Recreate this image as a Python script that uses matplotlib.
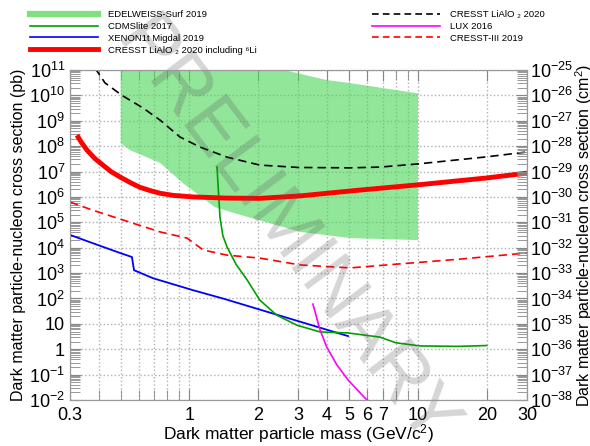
import numpy as np
import matplotlib
matplotlib.use('Agg')
import matplotlib.pyplot as plt
from matplotlib.lines import Line2D
from matplotlib.ticker import FixedLocator, FuncFormatter, LogLocator, NullFormatter

plt.rcParams['font.family'] = ['Liberation Sans', 'DejaVu Sans']
plt.rcParams['mathtext.fontset'] = 'custom'
plt.rcParams['mathtext.rm'] = 'Liberation Sans'
plt.rcParams['mathtext.it'] = 'Liberation Sans:italic'
plt.rcParams['mathtext.bf'] = 'Liberation Sans:bold'

# EDELWEISS-Surf 2019 excluded region (upper and lower edges)
edw_top_m = [0.5, 1.0, 2.0, 2.6, 4.0, 5.0, 10.0]
edw_top_s = [1e12, 5e11, 1.7e11, 1e11, 4e10, 3.1e10, 1.2e10]
edw_bot_m = [10.0, 5.04, 3.05, 2.03, 1.6, 1.29, 0.937, 0.743, 0.549, 0.5]
edw_bot_s = [2e4, 2.4e4, 4.2e4, 1.2e5, 2.2e5, 4e5, 3.5e6, 2.2e7, 7e7, 1.3e8]

# CRESST LiAlO2 2020
lialo_m = [0.386, 0.427, 0.507, 0.626, 0.743, 0.909, 1.11, 1.46, 2.03, 3.0, 5.04, 6.82, 10.0, 20.0, 30.0]
lialo_s = [1.2e11, 3.1e10, 1e10, 3.2e9, 1.07e9, 2.3e8, 9.3e7, 3.7e7, 1.8e7, 1.45e7, 1.4e7, 1.5e7, 2.0e7, 3.8e7, 5.9e7]

# CRESST LiAlO2 2020 including 6Li
li6_m = [0.322, 0.335, 0.356, 0.385, 0.418, 0.455, 0.497, 0.55, 0.607, 0.67, 0.743, 0.85, 1.04,
         1.46, 2.03, 3.05, 5.0, 6.82, 10.0, 20.0, 30.0]
li6_s = [2.7e8, 1.5e8, 7.0e7, 3.3e7, 1.8e7, 9.8e6, 6.1e6, 3.7e6, 2.4e6, 1.8e6, 1.4e6, 1.15e6, 1.0e6,
         9e5, 8.8e5, 1.1e6, 1.7e6, 2.2e6, 3.0e6, 5.6e6, 8.7e6]

# CRESST-III 2019
c3_m = [0.3, 0.378, 0.533, 0.743, 0.975, 1.15, 1.46, 2.03, 3.05, 5.04, 8.3, 15.0, 30.0]
c3_s = [6.3e5, 3.0e5, 1.1e5, 4.2e4, 2.4e4, 8.1e3, 5.1e3, 3.9e3, 2.1e3, 1.6e3, 2.3e3, 3.5e3, 6.2e3]

# XENON1t Migdal 2019
xe_m = [0.3, 0.378, 0.497, 0.56, 0.572, 0.692, 1.04, 1.40, 4.94]
xe_s = [3.2e4, 1.5e4, 6.2e3, 4.3e3, 1.3e3, 6.3e2, 2.1e2, 1.0e2, 3.3]

# CDMSlite 2017
cdms_m = [1.32, 1.34, 1.36, 1.40, 1.46, 1.6, 1.79, 2.03, 2.41, 2.95, 3.73, 4.94, 6.82, 8.0, 10.2, 15.0, 20.0]
cdms_s = [1.5e7, 1.5e6, 1.6e5, 3e4, 1.07e4, 2.2e3, 5.3e2, 87, 22, 8.9, 4.8, 4.4, 3.0, 1.8, 1.35, 1.3, 1.4]

# LUX 2016
lux_m = [3.47, 3.73, 3.99, 4.42, 4.94, 5.86, 6.0]
lux_s = [60, 5.7, 1.2, 0.24, 0.062, 0.012, 0.01]

xticks = [0.3, 1, 2, 3, 4, 5, 6, 7, 10, 20, 30]
xticklabels = ['0.3', '1', '2', '3', '4', '5', '6', '7', '10', '20', '30']

fig = plt.figure(figsize=(5.9, 4.46), dpi=100)
ax = fig.add_axes([0.1186, 0.1031, 0.7746, 0.7399])

ax.fill(edw_top_m + edw_bot_m, edw_top_s + edw_bot_s, color=(0.29, 0.84, 0.34),
        alpha=0.6, lw=0, zorder=2)
ax.plot(lialo_m, lialo_s, color='black', ls=(0, (5, 3)), lw=1.2, zorder=3)
ax.plot(c3_m, c3_s, color='red', ls=(0, (5, 3)), lw=1.2, zorder=3)
ax.plot(xe_m, xe_s, color='blue', lw=1.3, zorder=3)
ax.plot(cdms_m, cdms_s, color='#00a000', lw=1.2, zorder=3)
ax.plot(lux_m, lux_s, color='magenta', lw=1.2, zorder=3)
ax.plot(li6_m, li6_s, color='red', lw=3.5, zorder=4, solid_capstyle='butt', solid_joinstyle='round')

ax.set_xscale('log')
ax.set_yscale('log')
ax.set_xlim(0.3, 30)
ax.set_ylim(1e-2, 1e11)

ax.xaxis.set_major_locator(FixedLocator(xticks))
ax.xaxis.set_major_formatter(FuncFormatter(lambda v, p: xticklabels[xticks.index(v)] if v in xticks else ''))
ax.xaxis.set_minor_locator(LogLocator(base=10, subs=np.arange(2, 10)))
ax.xaxis.set_minor_formatter(NullFormatter())

def pb_fmt(v, pos):
    e = int(round(np.log10(v)))
    if e == 0:
        return '1'
    if e == 1:
        return '10'
    return r'$10^{%d}$' % e

ax.yaxis.set_major_locator(FixedLocator([10.0 ** e for e in range(-2, 12)]))
ax.yaxis.set_major_formatter(FuncFormatter(pb_fmt))
ax.yaxis.set_minor_locator(LogLocator(base=10, subs=np.arange(2, 10), numticks=50))
ax.yaxis.set_minor_formatter(NullFormatter())

ax.grid(True, which='major', axis='y', color='#b0b0b0', ls=':', lw=1.0)
ax.grid(True, which='both', axis='x', color='#b0b0b0', ls=':', lw=1.0)

ax.tick_params(which='both', direction='in', color='#888888', top=True, labelsize=13)
ax.tick_params(which='major', length=8, width=0.8)
ax.tick_params(which='minor', length=7, width=0.6)
ax.tick_params(axis='x', pad=5)
for s in ax.spines.values():
    s.set_color('#999999')

ax.set_xlabel('Dark matter particle mass (GeV/c$^2$)', fontsize=12.5, labelpad=-1)
ax.set_ylabel('Dark matter particle-nucleon cross section (pb)', fontsize=11.5, labelpad=2)

# right axis in cm^2 (1 pb = 1e-36 cm^2)
ax2 = ax.twinx()
ax2.set_yscale('log')
ax2.set_ylim(1e-38, 1e-25)
ax2.yaxis.set_major_locator(FixedLocator([10.0 ** e for e in range(-38, -24)]))
ax2.yaxis.set_major_formatter(FuncFormatter(lambda v, p: r'$10^{%d}$' % int(round(np.log10(v)))))
ax2.yaxis.set_minor_locator(LogLocator(base=10, subs=np.arange(2, 10), numticks=50))
ax2.yaxis.set_minor_formatter(NullFormatter())
ax2.tick_params(which='both', direction='in', color='#888888', labelsize=13, pad=2)
ax2.tick_params(which='major', length=8, width=0.8)
ax2.tick_params(which='minor', length=7, width=0.6)
ax2.set_ylabel('Dark matter particle-nucleon cross section (cm$^2$)', fontsize=11.5, labelpad=0)
for s in ax2.spines.values():
    s.set_color('#999999')

ax.text(0.47, 0.50, 'PRELIMINARY', transform=ax.transAxes, fontsize=55,
        rotation=-53, ha='center', va='center', color='0.35', alpha=0.25, zorder=6)

h_left = [Line2D([], [], color='#7fe07f', lw=4.5),
          Line2D([], [], color='#00a000', lw=1.2),
          Line2D([], [], color='blue', lw=1.2),
          Line2D([], [], color='red', lw=3.5)]
l_left = ['EDELWEISS-Surf 2019', 'CDMSlite 2017', 'XENON1t Migdal 2019',
          'CRESST LiAlO \u2082 2020 including \u2076Li']
h_right = [Line2D([], [], color='black', ls=(0, (4, 2.5)), lw=1.2),
           Line2D([], [], color='magenta', lw=1.2),
           Line2D([], [], color='red', ls=(0, (4, 2.5)), lw=1.2)]
l_right = ['CRESST LiAlO \u2082 2020', 'LUX 2016', 'CRESST-III 2019']

fig.legend(h_left, l_left, loc='upper left', bbox_to_anchor=(0.043, 0.988), frameon=False,
           fontsize=6.8, handlelength=7.2, handletextpad=1.1, labelspacing=0.3, borderpad=0)
fig.legend(h_right, l_right, loc='upper left', bbox_to_anchor=(0.622, 0.988), frameon=False,
           fontsize=6.8, handlelength=7.2, handletextpad=1.1, labelspacing=0.3, borderpad=0)

fig.savefig('out.png', dpi=100)
